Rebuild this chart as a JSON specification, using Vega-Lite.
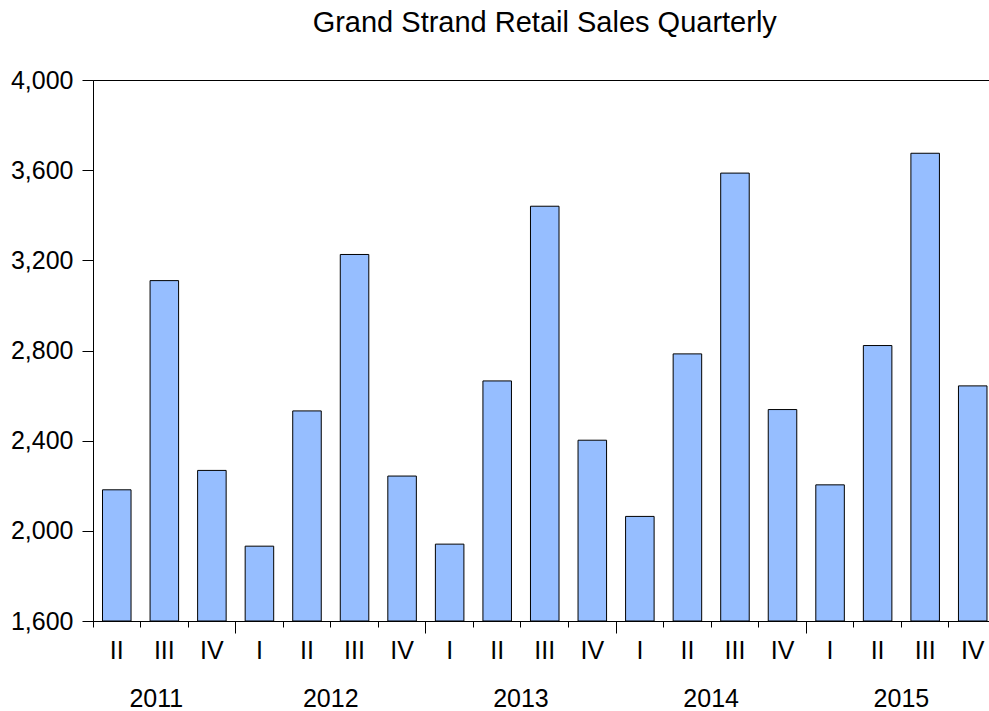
{
  "$schema": "https://vega.github.io/schema/vega-lite/v6.json",
  "autosize": {"type": "none"},
  "padding": {"left": 93, "top": 80, "right": 0, "bottom": 90},
  "width": 903.5,
  "height": 541,
  "background": "white",
  "title": {
    "text": "Grand Strand Retail Sales Quarterly",
    "font": "Liberation Sans",
    "fontSize": 29,
    "fontWeight": "normal",
    "color": "black",
    "anchor": "middle",
    "frame": "group",
    "baseline": "alphabetic",
    "offset": 7.5
  },
  "config": {
    "view": {"stroke": "black", "strokeWidth": 1},
    "font": "Liberation Sans"
  },
  "data": {
    "values": [
      {"q": "2011 II", "value": 2182},
      {"q": "2011 III", "value": 3110},
      {"q": "2011 IV", "value": 2268},
      {"q": "2012 I", "value": 1932},
      {"q": "2012 II", "value": 2532},
      {"q": "2012 III", "value": 3226},
      {"q": "2012 IV", "value": 2243},
      {"q": "2013 I", "value": 1941},
      {"q": "2013 II", "value": 2665},
      {"q": "2013 III", "value": 3440},
      {"q": "2013 IV", "value": 2402},
      {"q": "2014 I", "value": 2064},
      {"q": "2014 II", "value": 2785},
      {"q": "2014 III", "value": 3587},
      {"q": "2014 IV", "value": 2538},
      {"q": "2015 I", "value": 2204},
      {"q": "2015 II", "value": 2822},
      {"q": "2015 III", "value": 3675},
      {"q": "2015 IV", "value": 2643}
    ]
  },
  "layer": [
    {
      "mark": {"type": "bar", "fill": "#96BEFF", "stroke": "black", "strokeWidth": 1},
      "encoding": {
        "x": {
          "field": "q",
          "type": "ordinal",
          "sort": null,
          "scale": {"paddingInner": 0.4, "paddingOuter": 0.2},
          "axis": {
            "orient": "bottom",
            "zindex": 2,
            "title": null,
            "grid": false,
            "domainColor": "black",
            "domainWidth": 1,
            "bandPosition": -0.3333,
            "tickColor": "black",
            "tickSize": 6,
            "labelExpr": "split(datum.value, ' ')[1]",
            "labelAngle": 0,
            "labelFont": "Liberation Sans",
            "labelFontSize": 25,
            "labelColor": "black",
            "labelPadding": 11.5,
            "labelOverlap": false,
            "labelBound": false
          }
        },
        "y": {
          "field": "value",
          "type": "quantitative",
          "scale": {"domain": [1600, 4000], "nice": false, "zero": false},
          "axis": {
            "zindex": 2,
            "title": null,
            "grid": false,
            "values": [1600, 2000, 2400, 2800, 3200, 3600, 4000],
            "format": ",.0f",
            "domainColor": "black",
            "domainWidth": 1,
            "tickColor": "black",
            "tickSize": 11,
            "labelFont": "Liberation Sans",
            "labelFontSize": 25,
            "labelColor": "black",
            "labelPadding": 9,
            "labelOverlap": false,
            "labelBound": false
          }
        },
        "y2": {"datum": 1600}
      }
    },
    {
      "mark": {"type": "bar", "opacity": 0},
      "encoding": {
        "x": {
          "field": "q",
          "type": "ordinal",
          "sort": null,
          "axis": {
            "orient": "bottom",
            "zindex": 2,
            "title": null,
            "grid": false,
            "domain": false,
            "bandPosition": -0.3333,
            "tickColor": "black",
            "tickSize": 12,
            "tickOpacity": {"condition": {"test": "slice(datum.value, 5) === 'I'", "value": 1}, "value": 0},
            "labelExpr": "indexof(datum.value, ' III') > 0 && indexof(datum.value, '2011') < 0 ? slice(datum.value, 0, 4) : ''",
            "labelOffset": -23.78,
            "labelAngle": 0,
            "labelFont": "Liberation Sans",
            "labelFontSize": 25,
            "labelColor": "black",
            "labelPadding": 53.5,
            "labelOverlap": false,
            "labelBound": false
          }
        },
        "y": {"field": "value", "type": "quantitative"},
        "y2": {"datum": 1600}
      }
    },
    {
      "mark": {"type": "bar", "opacity": 0},
      "encoding": {
        "x": {
          "field": "q",
          "type": "ordinal",
          "sort": null,
          "axis": {
            "orient": "bottom",
            "zindex": 2,
            "title": null,
            "grid": false,
            "domain": false,
            "ticks": false,
            "labelExpr": "datum.value === '2011 III' ? '2011' : ''",
            "labelOffset": -8,
            "labelAngle": 0,
            "labelFont": "Liberation Sans",
            "labelFontSize": 25,
            "labelColor": "black",
            "labelPadding": 65.5,
            "labelOverlap": false,
            "labelBound": false
          }
        },
        "y": {"field": "value", "type": "quantitative"},
        "y2": {"datum": 1600}
      }
    }
  ],
  "resolve": {"axis": {"x": "independent"}}
}
